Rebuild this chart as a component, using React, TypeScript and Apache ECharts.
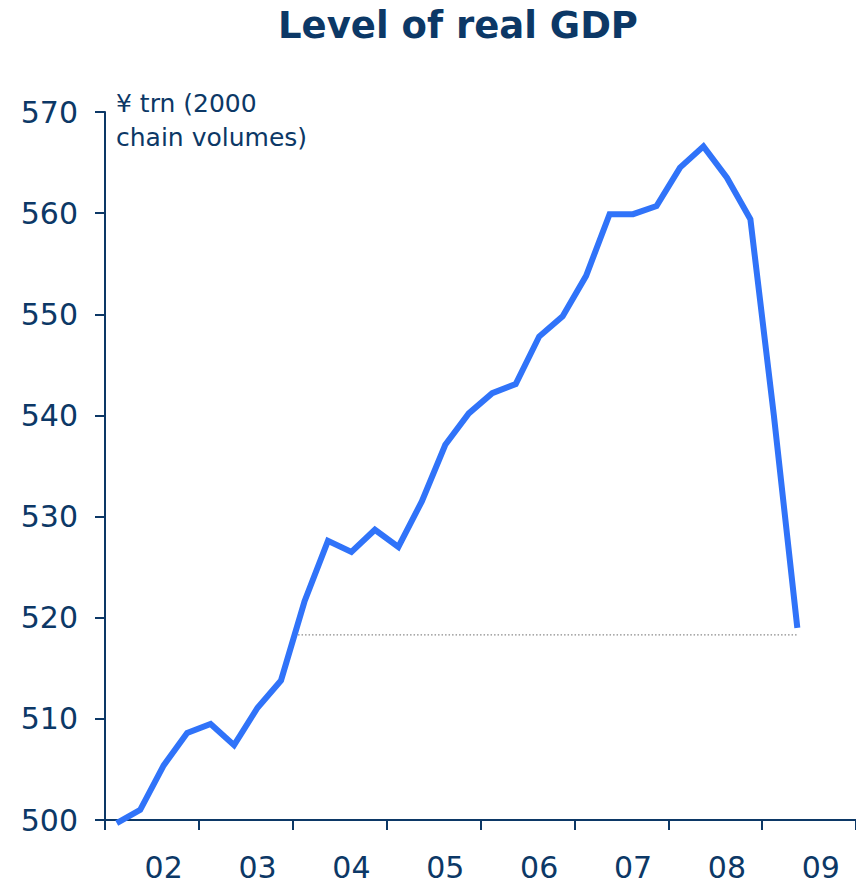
import React, { useEffect, useRef } from "react";
import * as echarts from "echarts";

const quarters = [
  "2001Q4", "2002Q1", "2002Q2", "2002Q3", "2002Q4", "2003Q1", "2003Q2", "2003Q3",
  "2003Q4", "2004Q1", "2004Q2", "2004Q3", "2004Q4", "2005Q1", "2005Q2", "2005Q3",
  "2005Q4", "2006Q1", "2006Q2", "2006Q3", "2006Q4", "2007Q1", "2007Q2", "2007Q3",
  "2007Q4", "2008Q1", "2008Q2", "2008Q3", "2008Q4", "2009Q1", "2009Q2", "2009Q3",
];

const gdp = [
  499.7, 501.0, 505.4, 508.6, 509.5, 507.4, 511.1, 513.8,
  521.6, 527.6, 526.5, 528.7, 527.0, 531.5, 537.1, 540.2,
  542.2, 543.1, 547.8, 549.8, 553.8, 559.9, 559.9, 560.7,
  564.5, 566.6, 563.5, 559.4, 540.0, 519.0,
];

const yTicks = { min: 500, max: 570, step: 10 };
const refLevel = 518.3;

const titleText = "Level of real GDP";
const unitText = "¥ trn (2000\nchain volumes)";

const NAVY = "#0c3866";
const BLUE = "#3073f9";
const FONT = "DejaVu Sans, Verdana, sans-serif";

function crossingIndex(values: number[], level: number): number {
  for (let i = 0; i < values.length - 1; i++) {
    if (values[i] <= level && values[i + 1] > level) {
      return i + (level - values[i]) / (values[i + 1] - values[i]);
    }
  }
  return 0;
}

export default function App() {
  const ref = useRef<HTMLDivElement>(null);

  useEffect(() => {
    if (!ref.current) return;
    const chart = echarts.init(ref.current, undefined, { renderer: "svg" });
    const start = crossingIndex(gdp, refLevel);
    const lastIdx = gdp.length - 1;

    chart.setOption({
      animation: false,
      backgroundColor: "#ffffff",
      grid: { left: 105, right: 0, top: 112, bottom: 65, containLabel: false },
      xAxis: [
        {
          type: "category",
          data: quarters,
          boundaryGap: true,
          axisLine: { show: true, onZero: false, lineStyle: { color: NAVY, width: 2 } },
          axisTick: { show: true, interval: 3, length: 10, lineStyle: { color: NAVY, width: 2 } },
          axisLabel: {
            interval: (idx: number) => idx % 4 === 2,
            formatter: (v: string) => v.slice(2, 4),
            color: NAVY,
            fontFamily: FONT,
            fontSize: 30,
            margin: 32,
          },
          splitLine: { show: false },
        },
        {
          type: "value",
          min: -0.5,
          max: quarters.length - 0.5,
          show: false,
        },
      ],
      yAxis: {
        type: "value",
        min: yTicks.min,
        max: yTicks.max,
        interval: yTicks.step,
        axisLine: { show: true, onZero: false, lineStyle: { color: NAVY, width: 2 } },
        axisTick: { show: true, length: 10, lineStyle: { color: NAVY, width: 2 } },
        axisLabel: { color: NAVY, fontFamily: FONT, fontSize: 30, margin: 27 },
        splitLine: { show: false },
      },
      graphic: [
        {
          type: "text",
          x: 458,
          y: 25,
          style: {
            text: titleText,
            fill: NAVY,
            font: `bold 37px ${FONT}`,
            align: "center",
            verticalAlign: "middle",
          },
        },
        {
          type: "text",
          x: 116,
          y: 86,
          style: {
            text: unitText,
            fill: NAVY,
            font: `25px ${FONT}`,
            lineHeight: 34,
            align: "left",
            verticalAlign: "top",
          },
        },
      ],
      series: [
        {
          type: "line",
          xAxisIndex: 1,
          data: [
            [start, refLevel],
            [lastIdx, refLevel],
          ],
          symbol: "none",
          lineStyle: { color: "#8a8a8a", width: 1.2, type: [1.5, 2] },
          z: 1,
          silent: true,
        },
        {
          type: "line",
          xAxisIndex: 0,
          data: gdp,
          symbol: "none",
          clip: false,
          lineStyle: { color: BLUE, width: 6, join: "miter" },
          z: 3,
        },
      ],
    });

    return () => chart.dispose();
  }, []);

  return (
    <div
      ref={ref}
      style={{ position: "absolute", left: 0, top: 0, width: 856, height: 885 }}
    />
  );
}
